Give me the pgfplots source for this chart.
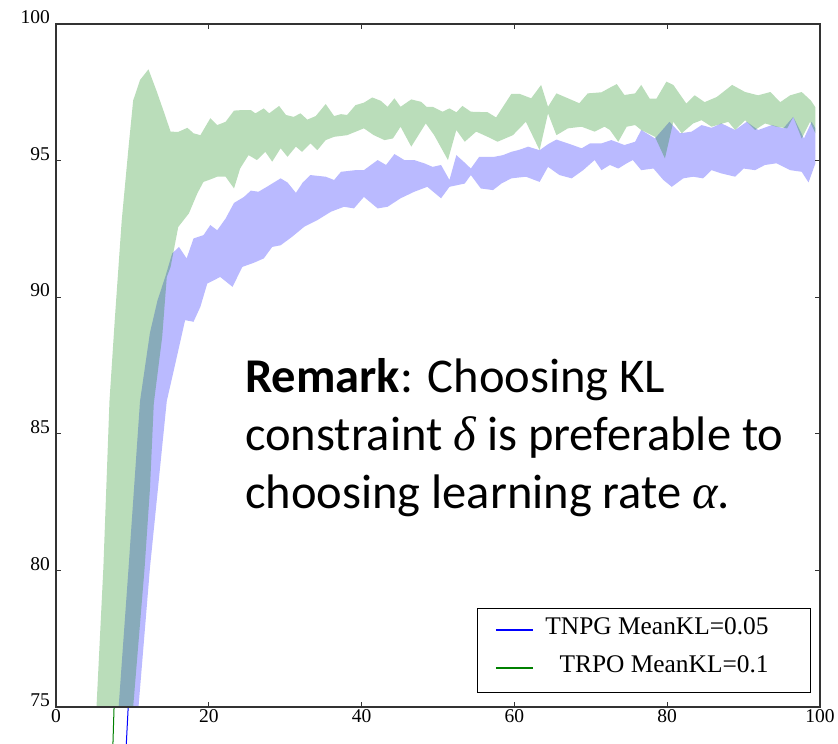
\documentclass[border=0pt]{standalone}
\usepackage{pgfplots}
\pgfplotsset{compat=1.18}
\usepackage{fontspec}
\setmainfont{Liberation Serif}
\newfontfamily\calibri{Carlito}
\newfontfamily\greekit{Liberation Serif}
\definecolor{mplgreen}{rgb}{0,0.5,0}
\begin{document}
\begin{tikzpicture}
\begin{axis}[
  at={(0pt,0pt)}, anchor=south west,
  scale only axis, width=764pt, height=683pt,
  xmin=0, xmax=100, ymin=75, ymax=100,
  xtick={0,20,40,60,80,100}, ytick={75,80,85,90,95,100},
  tick align=inside, major tick length=5pt,
  axis line style={black!80, line width=1.2pt},
  every tick/.style={black!80, line width=1pt},
  clip=false, axis on top,
  /pgf/number format/assume math mode=true,
  tick label style={font=\fontsize{19.5}{22}\selectfont},
  yticklabel style={anchor=south east, inner sep=0pt, xshift=-6pt},
  xticklabel style={anchor=north, inner sep=0pt, yshift=-2pt},
  legend cell align=right,
  legend image code/.code={\draw[#1, line width=1.3pt] (0pt,1.5pt) -- (37pt,1.5pt);},
  legend style={at={(0.98822,0.0205)}, anchor=south east, draw=black, line width=0.8pt,
    fill=white, inner xsep=18pt, inner ysep=4pt, row sep=0pt, column sep=12pt,
    font=\fontsize{25.4}{28}\selectfont,
    nodes={inner sep=0pt, text height=22pt, text depth=16pt}},
]
% TNPG band (blue)
\addplot[draw=none, fill=blue, fill opacity=0.27, forget plot] coordinates {
(8.2,75) (9.5,80.1) (11.0,86.2) (12.3,88.7) (13.3,89.9) (14.3,90.74) (15.2,91.6) (16.1,91.84) (17.1,91.42) (18.0,92.15) (19.3,92.27) (20.2,92.64) (21.1,92.45) (22.2,92.88) (23.3,93.45) (24.6,93.67) (25.5,93.9) (26.5,93.86) (27.6,94.04) (29.4,94.35) (30.3,94.2) (31.4,93.82) (32.3,94.2) (33.3,94.47) (35.3,94.41) (36.4,94.29) (37.3,94.59) (39.2,94.65) (40.3,94.65) (42.1,95.02) (43.2,94.84) (44.3,95.24) (45.6,95.02) (46.9,95.02) (48.2,94.9) (49.3,94.77) (50.4,94.84) (51.5,94.29) (52.4,95.2) (53.4,94.95) (54.3,94.71) (55.4,95.14) (57.4,95.14) (58.5,95.2) (59.6,95.32) (60.7,95.4) (61.8,95.51) (63.3,95.38) (64.4,95.6) (65.5,95.77) (67.0,95.63) (68.8,95.45) (69.9,95.63) (71.4,95.63) (72.7,95.75) (74.4,95.57) (75.8,95.69) (76.6,96.12) (78.4,95.81) (80.3,96.42) (81.7,96.0) (83.2,96.06) (84.5,96.3) (85.8,96.2) (87.1,96.36) (88.9,96.12) (90.4,96.42) (91.9,96.12) (93.7,96.3) (95.2,96.18) (96.5,96.6) (97.9,95.81) (98.9,96.42) (99.4,96.18)
(99.4,94.9) (98.5,94.2) (97.6,94.59) (96.1,94.65) (94.3,94.9) (92.8,94.84) (91.5,94.65) (90.0,94.71) (88.9,94.41) (87.1,94.53) (85.8,94.65) (84.7,94.35) (83.4,94.41) (82.1,94.35) (80.6,94.04) (79.5,94.29) (78.2,94.71) (76.6,94.65) (75.5,95.02) (74.7,94.9) (73.6,94.71) (72.5,94.84) (71.4,94.65) (70.5,95.02) (69.0,94.65) (67.5,94.35) (65.9,94.47) (64.4,94.77) (63.3,94.22) (61.5,94.41) (59.6,94.35) (58.3,94.16) (57.2,93.92) (55.6,93.98) (54.3,94.47) (53.5,94.16) (51.5,94.04) (50.4,93.62) (48.6,94.04) (46.9,93.86) (45.1,93.62) (43.4,93.31) (42.1,93.25) (40.3,93.67) (39.0,93.25) (37.7,93.31) (36.0,93.13) (34.2,92.82) (32.5,92.58) (30.9,92.21) (29.4,91.9) (28.3,91.84) (27.2,91.42) (25.9,91.26) (24.4,91.11) (23.1,90.38) (21.5,90.74) (19.8,90.5) (18.9,89.65) (18.0,89.1) (16.9,89.16) (15.4,87.3) (14.5,86.2) (12.3,80.1) (10.8,75)
} -- cycle;
% TRPO band (green)
\addplot[draw=none, fill=mplgreen, fill opacity=0.27, forget plot] coordinates {
(5.3,75) (6.2,80.1) (7.0,86.2) (7.7,89.2) (8.6,92.8) (9.5,95.5) (10.1,97.2) (11.0,97.95) (12.1,98.34) (13.2,97.52) (14.1,96.8) (15.0,96.06) (16.0,96.05) (17.2,96.2) (18.0,96.0) (18.9,95.93) (20.2,96.55) (21.1,96.3) (22.2,96.42) (23.3,96.83) (24.4,96.85) (25.5,96.85) (26.1,96.73) (27.2,96.91) (27.9,96.73) (29.2,97.0) (30.1,96.67) (31.1,96.6) (32.0,96.73) (32.9,96.5) (34.0,96.63) (35.3,97.07) (36.4,96.63) (37.3,96.7) (38.1,96.67) (39.2,97.03) (40.3,97.12) (41.4,97.31) (42.5,97.19) (43.4,96.97) (44.3,97.28) (45.1,96.97) (46.5,97.24) (47.8,97.15) (48.5,96.97) (49.3,96.97) (50.6,96.79) (51.5,96.91) (52.4,96.77) (53.2,97.0) (54.3,96.79) (56.5,96.77) (57.6,96.58) (59.6,97.44) (60.7,97.44) (62.2,97.28) (63.5,97.77) (64.4,96.97) (65.5,97.46) (67.0,97.28) (68.5,97.1) (69.6,97.46) (71.4,97.5) (72.7,97.7) (73.4,97.8) (74.4,97.4) (75.8,97.46) (76.6,97.77) (77.7,97.27) (78.6,97.27) (79.9,97.89) (80.8,97.77) (82.5,97.09) (83.6,97.39) (84.9,97.14) (86.5,97.33) (88.5,97.77) (90.2,97.51) (91.9,97.39) (93.5,97.51) (94.8,97.14) (96.1,97.39) (97.6,97.51) (98.8,97.2) (99.4,96.95)
(99.4,96.0) (98.7,96.42) (97.6,95.81) (96.5,96.6) (95.7,96.18) (94.3,96.24) (92.8,96.36) (91.5,96.12) (90.2,96.48) (88.9,96.12) (88.0,96.42) (85.8,96.24) (84.5,96.48) (83.4,96.36) (81.9,96.0) (80.8,96.42) (79.7,95.08) (78.4,95.87) (76.6,96.12) (75.8,96.3) (74.7,96.24) (73.6,95.69) (72.5,96.12) (71.8,96.24) (70.5,96.06) (68.8,96.24) (67.0,96.18) (65.5,95.93) (64.4,96.73) (63.3,95.38) (61.5,96.42) (59.8,95.93) (57.8,95.69) (56.5,95.87) (55.0,96.06) (53.5,95.69) (52.4,96.12) (51.3,95.02) (49.5,95.93) (48.4,96.36) (46.5,95.51) (45.1,96.24) (44.1,95.81) (43.0,95.75) (41.6,95.93) (40.3,96.18) (38.1,95.93) (36.4,95.87) (35.3,95.75) (34.2,95.38) (33.3,95.63) (32.2,95.32) (31.4,95.51) (30.3,95.14) (29.4,95.45) (28.3,94.96) (27.4,95.32) (26.3,95.02) (25.2,95.2) (24.1,94.71) (23.3,93.98) (22.2,94.41) (21.1,94.41) (20.1,94.3) (19.3,94.22) (18.5,93.8) (17.4,93.07) (16.7,92.82) (16.0,92.57) (15.5,91.84) (15.0,91.11) (14.5,90.74) (13.9,88.55) (12.8,86.11) (12.3,83.0) (11.6,80.1) (10.1,75)
} -- cycle;
\addplot[blue, line width=1pt] coordinates {(9.45,75) (9.2,73.63)};
\addlegendentry{TNPG MeanKL=0.05\hspace*{24pt}}
\addplot[mplgreen, line width=1pt] coordinates {(7.6,75) (7.45,73.63)};
\addlegendentry{TRPO MeanKL=0.1\hspace*{24pt}}
\end{axis}
\begin{scope}[every node/.style={anchor=base west, inner sep=0pt, font=\calibri\fontsize{48.5}{58}\selectfont}]
\node at (189pt,314pt) {\textbf{Remark}: Choosing KL};
\node at (189pt,256pt) {constraint {\greekit\itshape δ} is preferable to};
\node at (189pt,198pt) {choosing learning rate {\greekit\itshape α}.};
\end{scope}
\pgfresetboundingbox
\path[use as bounding box] (-56pt,-37pt) rectangle (782pt,707pt);
\end{tikzpicture}
\end{document}
